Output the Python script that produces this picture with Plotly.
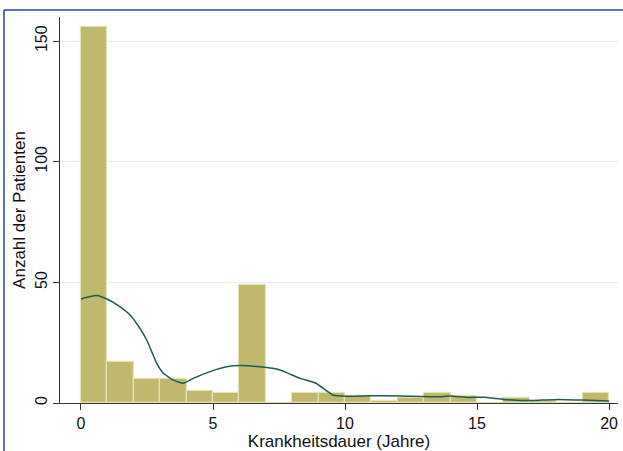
import plotly.graph_objects as go

# Histogram data (bin width 1 year)
bin_starts = list(range(20))
counts = [156, 17, 10, 10, 5, 4, 49, 0, 4, 4, 3, 1, 2, 4, 3, 0, 2, 1, 0, 4]

# Kernel density curve (scaled to counts)
kde_x = [0.0, 0.3, 0.6, 1.0, 1.4, 1.86, 2.2, 2.49, 2.87, 3.12, 3.5, 3.88, 4.25,
         4.89, 5.52, 6.02, 6.78, 7.54, 8.3, 8.9, 9.56, 10.06, 10.95, 12.08,
         13.5, 14.0, 14.7, 15.24, 16.0, 16.75, 17.4, 18.1, 19.0, 20.0]
kde_y = [43.1, 44.0, 44.6, 43.0, 40.5, 36.5, 31.5, 26.1, 16.4, 12.3, 9.5, 8.2, 10.2,
         13.0, 15.0, 15.5, 15.0, 13.7, 10.2, 8.2, 3.2, 2.8, 3.0, 2.9,
         2.6, 2.9, 2.3, 2.4, 1.5, 1.0, 1.2, 1.5, 1.2, 0.8]

x_ticks = [0, 5, 10, 15, 20]
y_ticks = [0, 50, 100, 150]

fig = go.Figure()
fig.add_trace(go.Bar(
    x=[b + 0.5 for b in bin_starts], y=counts, width=1,
    marker=dict(color="#BFB86D", line=dict(color="#E6E2B8", width=1.2)),
    showlegend=False, hoverinfo="skip",
))
fig.add_trace(go.Scatter(
    x=kde_x, y=kde_y, mode="lines",
    line=dict(color="#1E5C56", width=1.5, shape="spline", smoothing=0.4),
    showlegend=False,
))

font = dict(family="Liberation Sans, Arial, sans-serif", color="#111111")

fig.update_layout(
    width=623, height=451,
    margin=dict(l=60, r=5, t=17, b=48),
    paper_bgcolor="white", plot_bgcolor="white",
    font=dict(size=14, **font),
    bargap=0,
    xaxis=dict(
        range=[-0.795, 20.34], tickvals=x_ticks, ticks="outside", ticklen=6,
        tickcolor="#333333", showgrid=False, zeroline=False,
        showline=True, linecolor="#333333", linewidth=1,
        tickfont=dict(size=16), title=dict(text="Krankheitsdauer (Jahre)", font=dict(size=17), standoff=0),
    ),
    yaxis=dict(
        range=[0, 160], tickvals=y_ticks, ticks="outside", ticklen=6,
        tickcolor="#333333", tickangle=-90, showgrid=True, gridcolor="#E4EFF1",
        gridwidth=1, zeroline=False, showline=True, linecolor="#333333", linewidth=1,
        tickfont=dict(size=16), title=dict(text="Anzahl der Patienten", font=dict(size=17), standoff=2),
    ),
    shapes=[
        dict(type="line", xref="paper", yref="paper", x0=-0.1004, x1=1.2,
             y0=1.0181, y1=1.0181, line=dict(color="#2743A8", width=1.5)),
        dict(type="line", xref="paper", yref="paper", x0=-0.1004, x1=-0.1004,
             y0=1.0181, y1=-0.2, line=dict(color="#2743A8", width=1.5)),
    ],
)

fig.write_html("out.html", config={"displayModeBar": False})

# remove the browser's default page margin so the figure sits at the top-left corner
with open("out.html", encoding="utf-8") as f:
    html = f.read()
html = html.replace("<head>", "<head><style>html,body{margin:0;padding:0;overflow:hidden;}</style>", 1)
with open("out.html", "w", encoding="utf-8") as f:
    f.write(html)
